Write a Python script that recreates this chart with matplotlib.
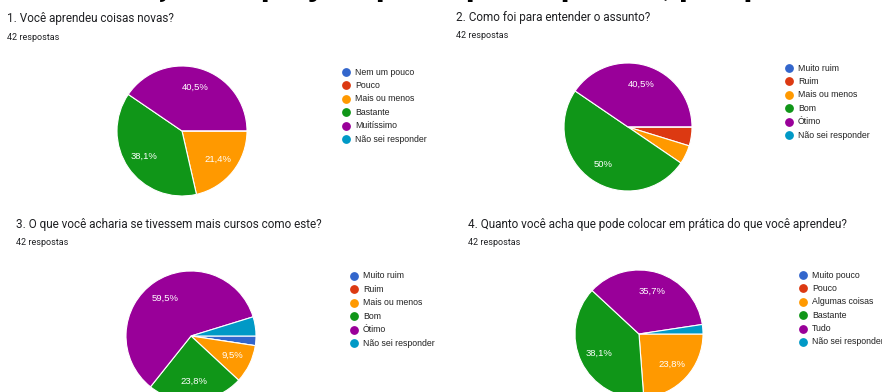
import matplotlib
matplotlib.use("Agg")
import matplotlib.pyplot as plt
from matplotlib.lines import Line2D

W, H = 882, 392

# Google Forms palette
colors = ["#3366cc", "#dc3912", "#ff9900", "#109618", "#990099", "#0099c6"]

# 42 responses per question
titles = [
    "1. Você aprendeu coisas novas?",
    "2. Como foi para entender o assunto?",
    "3. O que você acharia se tivessem mais cursos como este?",
    "4. Quanto você acha que pode colocar em prática do que você aprendeu?",
]
subtitle = "42 respostas"

labels_q1 = ["Nem um pouco", "Pouco", "Mais ou menos", "Bastante", "Muitíssimo", "Não sei responder"]
counts_q1 = [0, 0, 9, 16, 17, 0]

labels_q2 = ["Muito ruim", "Ruim", "Mais ou menos", "Bom", "Ótimo", "Não sei responder"]
counts_q2 = [0, 2, 2, 21, 17, 0]

labels_q3 = ["Muito ruim", "Ruim", "Mais ou menos", "Bom", "Ótimo", "Não sei responder"]
counts_q3 = [1, 0, 4, 10, 25, 2]

labels_q4 = ["Muito pouco", "Pouco", "Algumas coisas", "Bastante", "Tudo", "Não sei responder"]
counts_q4 = [0, 0, 10, 16, 15, 1]

# layout in pixels: title pos, pie centre, radius, legend pos
panels = [
    dict(labels=labels_q1, counts=counts_q1, title=(7, 18), sub=(7, 37), center=(182, 131), r=65, leg=(346, 72)),
    dict(labels=labels_q2, counts=counts_q2, title=(456, 17), sub=(456, 35), center=(628, 127), r=64, leg=(789, 68)),
    dict(labels=labels_q3, counts=counts_q3, title=(16, 224), sub=(16, 242), center=(191, 336), r=65, leg=(354, 276)),
    dict(labels=labels_q4, counts=counts_q4, title=(468, 224), sub=(468, 242), center=(639, 334), r=64, leg=(803, 275)),
]


def pct_label(pct):
    if pct < 5:
        return ""
    s = f"{pct:.1f}"
    if s.endswith(".0"):
        s = s[:-2]
    return s.replace(".", ",") + "%"


fig = plt.figure(figsize=(W / 100, H / 100), dpi=100)
fig.patch.set_facecolor("white")

# full-figure overlay in pixel coordinates for text and legends
bg = fig.add_axes([0, 0, 1, 1])
bg.set_xlim(0, W)
bg.set_ylim(H, 0)
bg.axis("off")

# page heading, mostly scrolled off the top (only descenders show)
bg.text(60, 2, "Avaliação do projeto pelos participantes, pesquisa completa",
        fontsize=24, fontweight="bold", family="Roboto", color="black",
        ha="left", va="bottom")

for i, p in enumerate(panels):
    bg.text(p["title"][0], p["title"][1], titles[i], fontsize=8.5, family="Roboto",
            color="#202124", ha="left", va="center")
    bg.text(p["sub"][0], p["sub"][1], subtitle, fontsize=6.5, family="Roboto",
            color="#202124", ha="left", va="center")

    cx, cy = p["center"]
    r = p["r"]
    ax = fig.add_axes([(cx - r) / W, 1 - (cy + r) / H, 2 * r / W, 2 * r / H])
    wedges, texts, autotexts = ax.pie(
        p["counts"], colors=colors, startangle=0, counterclock=False,
        autopct=pct_label, pctdistance=0.7, radius=1,
        wedgeprops=dict(edgecolor="white", linewidth=0.8),
        textprops=dict(color="white", fontsize=6.8, family="Liberation Sans"),
    )
    ax.set_xlim(-1, 1)
    ax.set_ylim(-1, 1)
    ax.set_aspect("equal")
    ax.axis("off")

    lx, ly = p["leg"]
    for j, name in enumerate(p["labels"]):
        y = ly + j * 13.4
        bg.add_line(Line2D([lx], [y], marker="o", markersize=5.3, color=colors[j], linestyle="none"))
        bg.text(lx + 9, y, name, fontsize=6.3, family="Liberation Sans", color="#222222",
                ha="left", va="center")

fig.savefig("out.png", dpi=100)
